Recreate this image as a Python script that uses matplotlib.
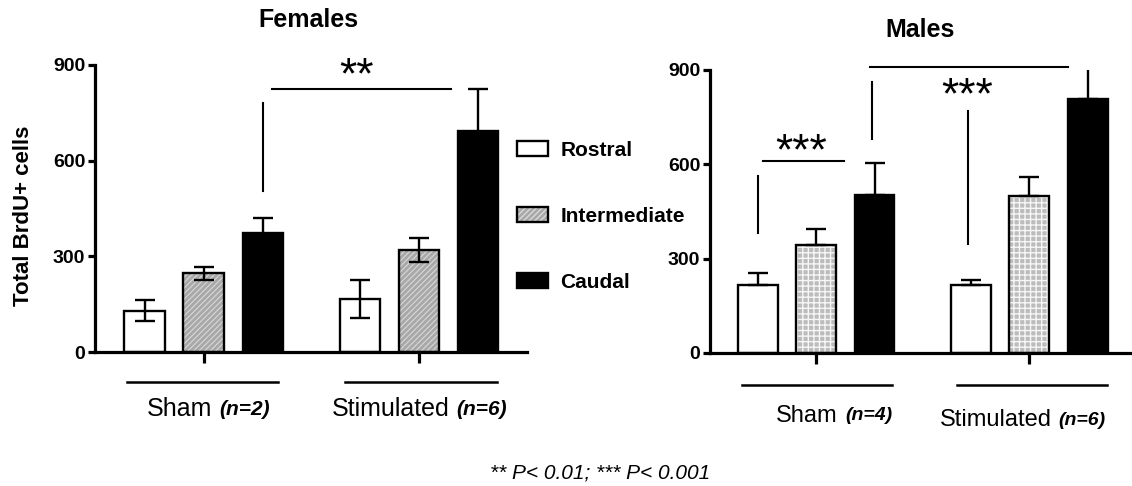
import matplotlib
matplotlib.use("Agg")
import matplotlib.pyplot as plt
import matplotlib.transforms as mtransforms
import numpy as np

plt.rcParams['font.family'] = ['Liberation Sans', 'DejaVu Sans']

# data
regions = ['Rostral', 'Intermediate', 'Caudal']
groups = ['Sham', 'Stimulated']

fem_n = ['(n=2)', '(n=6)']
fem_sham = [130, 247, 374]
fem_sham_err = [33, 21, 45]
fem_stim = [167, 320, 693]
fem_stim_err = [60, 39, 131]

male_n = ['(n=4)', '(n=6)']
male_sham = [215, 342, 501]
male_sham_err = [39, 52, 102]
male_stim = [217, 500, 809]
male_stim_err = [16, 61, 96]

yticks = [0, 300, 600, 900]

W = 0.68
GAP = 3.65
LW = 1.7


def draw_panel(ax, sham, sham_err, stim, stim_err, both_sides,
               hatch, hatch_face, hatch_col, hatch_lw):
    handles = None
    for k, (vals, errs) in enumerate([(sham, sham_err), (stim, stim_err)]):
        xs = np.arange(3) + k * GAP
        r = ax.bar(xs[0], vals[0], W, facecolor='white', edgecolor='black',
                   linewidth=LW, zorder=2)
        # hatch colour only sticks when no edgecolor is given
        plt.rcParams['hatch.color'] = hatch_col
        plt.rcParams['hatch.linewidth'] = hatch_lw
        h = ax.bar(xs[1], vals[1], W, facecolor=hatch_face, hatch=hatch,
                   linewidth=0, zorder=2)
        o = ax.bar(xs[1], vals[1], W, fill=False, edgecolor='black',
                   linewidth=LW, zorder=2.1)
        c = ax.bar(xs[2], vals[2], W, facecolor='black', edgecolor='black',
                   linewidth=LW, zorder=2)
        errs = np.array(errs)
        yerr = [errs, errs] if both_sides else [np.zeros(3), errs]
        ax.errorbar(xs, vals, yerr=yerr, fmt='none', ecolor='black',
                    elinewidth=LW, capsize=7, capthick=LW, zorder=3)
        if handles is None:
            handles = [r[0], (h[0], o[0]), c[0]]

    ax.set_ylim(0, 900)
    ax.set_yticks(yticks)
    ax.set_xticks([1, 1 + GAP])
    ax.set_xticklabels(['', ''])
    for s in ['top', 'right']:
        ax.spines[s].set_visible(False)
    for s in ['left', 'bottom']:
        ax.spines[s].set_linewidth(2.3)
    ax.tick_params(axis='y', length=5, width=2.3, labelsize=14, pad=2)
    ax.tick_params(axis='x', length=8, width=2.3)
    for lab in ax.get_yticklabels():
        lab.set_fontweight('bold')
    return handles


def group_labels(ax, ns, line_y, text_y, lines, splits, fs, fs_n):
    tr = mtransforms.blended_transform_factory(ax.transData, ax.transAxes)
    for (x0, x1), sp, g, n, ty in zip(lines, splits, groups, ns, text_y):
        ax.plot([x0, x1], [line_y, line_y], color='black', lw=1.8,
                transform=tr, clip_on=False)
        ax.annotate(g, (sp, ty), xycoords=tr, xytext=(-2, 0),
                    textcoords='offset points', ha='right', va='center',
                    fontsize=fs, annotation_clip=False)
        ax.annotate(n, (sp, ty), xycoords=tr, xytext=(3, 0),
                    textcoords='offset points', ha='left', va='center',
                    fontsize=fs_n, fontweight='bold', fontstyle='italic',
                    annotation_clip=False)


def sig_line(ax, xs, ys):
    ax.plot(xs, ys, color='black', lw=1.5, clip_on=False)


fig = plt.figure(figsize=(11.32, 4.86), dpi=100)
axf = fig.add_axes([0.0839, 0.2757, 0.3816, 0.5906])
axm = fig.add_axes([0.6272, 0.2737, 0.3708, 0.5823])

handles = draw_panel(axf, fem_sham, fem_sham_err, fem_stim, fem_stim_err,
                     True, '//////', '#a8a8a8', '#d8d8d8', 0.8)
axf.set_xlim(-0.84, 6.48)
draw_panel(axm, male_sham, male_sham_err, male_stim, male_stim_err,
           False, '+++', '#bcbcbc', '#f6f6f6', 1.0)
axm.set_xlim(-0.82, 6.37)

# significance marks
star = dict(ha='center', va='center', fontsize=32, clip_on=False)
sig_line(axf, [2, 2], [505, 782])
sig_line(axf, [2.16, 5.19], [824, 824])
axf.text(3.6, 862, '**', **star)

sig_line(axm, [0, 0], [382, 563])
sig_line(axm, [0.09, 1.47], [609, 609])
axm.text(0.74, 638, '***', **star)
sig_line(axm, [1.95, 1.95], [681, 862])
sig_line(axm, [1.92, 5.31], [908, 908])
axm.text(3.58, 814, '***', **star)
sig_line(axm, [3.6, 3.6], [347, 770])

group_labels(axf, fem_n, -0.103, [-0.2, -0.2],
             [(-0.3, 2.26), (3.4, 5.97)], [1.19, 5.21], 18, 15)
group_labels(axm, male_n, -0.112, [-0.222, -0.237],
             [(-0.27, 2.29), (3.41, 5.98)], [1.42, 5.08], 17, 14)

fig.text(308 / 1132, 1 - 20 / 486, 'Females', ha='center', va='center',
         fontsize=18, fontweight='bold')
fig.text(920 / 1132, 1 - 30 / 486, 'Males', ha='center', va='center',
         fontsize=18, fontweight='bold')
fig.text(24 / 1132, 1 - 216 / 486, 'Total BrdU+ cells', rotation=90,
         ha='center', va='center', fontsize=16, fontweight='bold')

fig.legend(handles, regions, loc='upper left',
           bbox_to_anchor=(498 / 1132, 1 - 122 / 486), frameon=False,
           prop={'weight': 'bold', 'size': 15}, handlelength=1.5,
           handleheight=0.7, labelspacing=2.25, handletextpad=0.6)

fig.text(600 / 1132, 1 - 473 / 486, '** P< 0.01; *** P< 0.001',
         ha='center', va='center', fontsize=15, fontstyle='italic')

fig.savefig('out.png', dpi=100)
